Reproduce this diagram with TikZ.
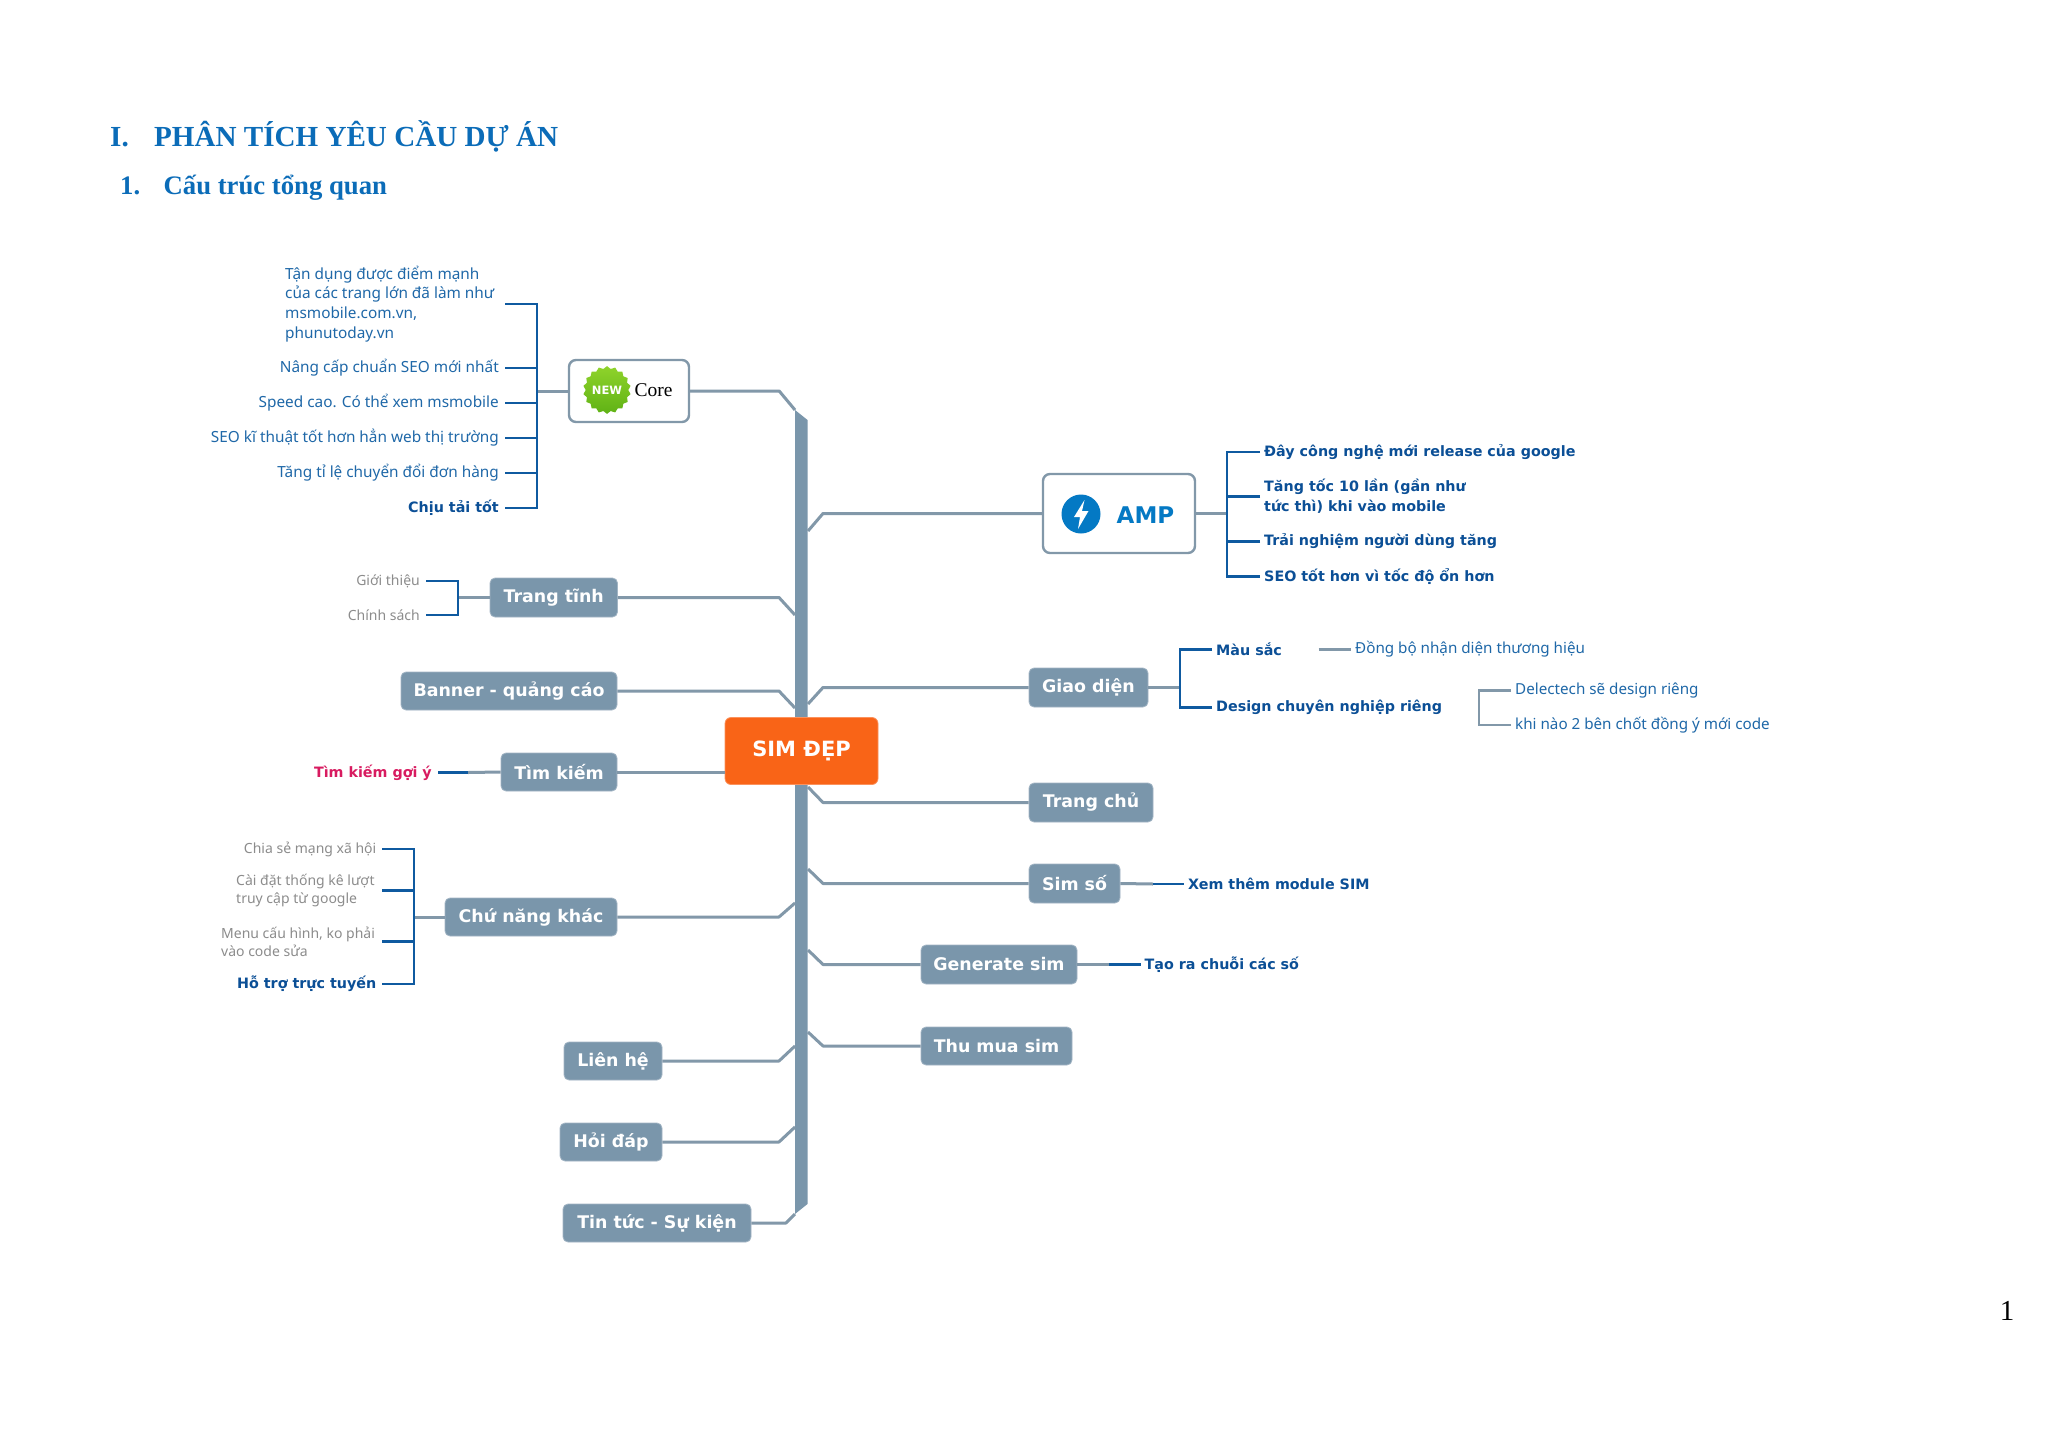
\documentclass[tikz,border=0pt]{standalone}
\usepackage{fontspec}
\setmainfont{Liberation Serif}
\newfontfamily\lf{Noto Sans}
\newfontfamily\dvb{DejaVu Sans}[BoldFont={DejaVu Sans Bold}]
\usetikzlibrary{shapes.geometric}
\definecolor{topicc}{HTML}{7A96AB}
\definecolor{linec}{HTML}{8298A9}
\definecolor{blc}{HTML}{0F5AA0}
\definecolor{leafc}{HTML}{1F68A8}
\definecolor{boldc}{HTML}{0B4F96}
\definecolor{grayc}{HTML}{8C8C8C}
\definecolor{headc}{HTML}{0B6CB8}
\definecolor{orc}{HTML}{F96417}
\definecolor{ampc}{HTML}{0479C4}
\definecolor{pinkc}{HTML}{D81B60}
\definecolor{greena}{HTML}{8FD32B}
\definecolor{greenb}{HTML}{5FB215}
\tikzset{
 topic/.style={rectangle,rounded corners=5pt,fill=topicc,draw=topicc!70!white,line width=.8pt,text=white,inner sep=0pt,font=\dvb\bfseries\fontsize{17.4}{20}\selectfont},
 whitebox/.style={rectangle,rounded corners=7pt,fill=white,draw=linec,line width=2.4pt,inner sep=0pt},
 leafn/.style={inner sep=0pt,text=leafc,font=\lf\fontsize{15.2}{19.7}\selectfont},
 graylf/.style={inner sep=0pt,text=grayc,font=\lf\fontsize{14}{18}\selectfont},
 boldlf/.style={inner sep=0pt,text=boldc,font=\dvb\bfseries\fontsize{14.3}{20}\selectfont},
 gl/.style={draw=linec,line width=3pt,line join=round},
 bl/.style={draw=blc,line width=2.4pt},
 headn/.style={inner sep=0pt,text=headc,anchor=base west},
}
\begin{document}
\begin{tikzpicture}[x=1pt,y=-1pt]
\useasboundingbox (0,0) rectangle (2048,1448);
\fill[white] (0,0) rectangle (2048,1448);
% headings
\node[headn,font=\bfseries\fontsize{29.1}{32}\selectfont] (h1) at (110,146) {I.};
\node[headn,font=\bfseries\fontsize{29.1}{32}\selectfont] (h1b) at (154,146) {PHÂN TÍCH YÊU CẦU DỰ ÁN};
\node[headn,font=\bfseries\fontsize{26.7}{30}\selectfont] (h2) at (120,194) {1.};
\node[headn,font=\bfseries\fontsize{26.7}{30}\selectfont] (h2b) at (163.5,194) {Cấu trúc tổng quan};
\node[inner sep=0pt,font=\fontsize{29}{32}\selectfont] (pg) at (2007,1311) {1};
\begin{scope}[yshift=-1pt]
% trunk
\coordinate (tTL) at (795,409);
\coordinate (tTR) at (807.5,419);
\coordinate (tBR) at (807.5,1203);
\coordinate (tBL) at (795,1213);
\fill[topicc] (tTL) -- (tTR) -- (tBR) -- (tBL) -- cycle;
% central
\node[rectangle,rounded corners=6pt,fill=orc,draw=orc!70!white,line width=.8pt,text=white,inner sep=0pt,minimum width=153pt,minimum height=67pt,font=\dvb\bfseries\fontsize{21}{24}\selectfont] (sim) at (801.5,750) {SIM ĐẸP};
% white boxes
\node[whitebox,minimum width=120pt,minimum height=62pt] (core) at (629,390) {};
\node[star,star points=18,star point ratio=1.12,inner sep=0pt,minimum size=46pt,top color=greena,bottom color=greenb,draw=none,text=white,font=\dvb\bfseries\fontsize{11.5}{14}\selectfont] (newb) at (607,389) {NEW};
\node[inner sep=0pt,font=\fontsize{19.5}{22}\selectfont] (coret) at (653.5,389) {Core};
\node[whitebox,minimum width=152pt,minimum height=79pt] (amp) at (1119,512.5) {};
\node[circle,fill=ampc,minimum size=39pt,inner sep=0pt] (ampi) at (1081,513) {};
\fill[white] (1084.5,499) -- (1074,516) -- (1080,516) -- (1078,528) -- (1088.5,510) -- (1082,510) -- cycle;
\node[inner sep=0pt,text=ampc,font=\dvb\bfseries\fontsize{23}{26}\selectfont] (ampt) at (1145.5,514) {AMP};
% topic nodes
\node[topic,minimum width=127.5pt,minimum height=39pt] (tt) at (553.75,596.5) {Trang tĩnh};
\node[topic,minimum width=216pt,minimum height=38pt] (bn) at (509,690) {Banner - quảng cáo};
\node[topic,minimum width=116pt,minimum height=38pt] (tk) at (559,771) {Tìm kiếm};
\node[topic,minimum width=172pt,minimum height=38pt] (cn) at (531,916) {Chứ năng khác};
\node[topic,minimum width=98pt,minimum height=38pt] (lh) at (613,1060) {Liên hệ};
\node[topic,minimum width=102pt,minimum height=38pt] (hd) at (611,1141) {Hỏi đáp};
\node[topic,minimum width=188pt,minimum height=38pt] (tt2) at (657,1222) {Tin tức - Sự kiện};
\node[topic,minimum width=119pt,minimum height=39pt] (gd) at (1088.5,686.5) {Giao diện};
\node[topic,minimum width=124pt,minimum height=39pt] (tc) at (1091,801.5) {Trang chủ};
\node[topic,minimum width=91pt,minimum height=39pt] (ss) at (1074.5,882.5) {Sim số};
\node[topic,minimum width=156pt,minimum height=39pt] (gs) at (999,963.5) {Generate sim};
\node[topic,minimum width=151pt,minimum height=38pt] (tm) at (996.5,1045) {Thu mua sim};
% trunk connectors left
\draw[gl] (core.east) -- ++(89,0) -- (tTL);
\coordinate (jtt) at (795,614);
\coordinate (jbn) at (795,707);
\coordinate (jcn) at (795,902);
\coordinate (jlh) at (795,1045);
\coordinate (jhd) at (795,1126);
\draw[gl] (tt.east) -- (779,596.5) -- (jtt);
\draw[gl] (bn.east) -- (779,690) -- (jbn);
\draw[gl] (tk.east) -- (sim.west |- tk.east);
\draw[gl] (cn.east) -- (779,916) -- (jcn);
\draw[gl] (lh.east) -- (779,1060) -- (jlh);
\draw[gl] (hd.east) -- (779,1141) -- (jhd);
\draw[gl] (tt2.east) -- (786,1222) -- (tBL);
% trunk connectors right
\coordinate (jamp) at (808,530);
\coordinate (jgd) at (808,703);
\coordinate (jtc) at (808,786);
\coordinate (jss) at (808,868);
\coordinate (jgs) at (808,949);
\coordinate (jtm) at (808,1031);
\draw[gl] (amp.west) -- (823,512.5) -- (jamp);
\draw[gl] (gd.west) -- (823,686.5) -- (jgd);
\draw[gl] (tc.west) -- (823,801.5) -- (jtc);
\draw[gl] (ss.west) -- (823,882.5) -- (jss);
\draw[gl] (gs.west) -- (823,963.5) -- (jgs);
\draw[gl] (tm.west) -- (823,1045) -- (jtm);
% Core leaves
\node[leafn,anchor=west,align=left,font=\lf\fontsize{15.35}{19.7}\selectfont] (c1) at (285,303) {Tận dụng được điểm mạnh\\của các trang lớn đã làm như\\msmobile.com.vn,\\phunutoday.vn};
\node[leafn,anchor=east,font=\lf\fontsize{15.35}{19.7}\selectfont] (c2) at (499,367) {Nâng cấp chuẩn SEO mới nhất};
\node[leafn,anchor=east,font=\lf\fontsize{15.35}{19.7}\selectfont] (c3) at (499,402) {Speed cao. Có thể xem msmobile};
\node[leafn,anchor=east,font=\lf\fontsize{15.35}{19.7}\selectfont] (c4) at (499,437) {SEO kĩ thuật tốt hơn hẳn web thị trường};
\node[leafn,anchor=east,font=\lf\fontsize{15.35}{19.7}\selectfont] (c5) at (499,472) {Tăng tỉ lệ chuyển đổi đơn hàng};
\node[boldlf,anchor=east] (c6) at (499,507) {Chịu tải tốt};
\coordinate (jc) at (537,390);
\draw[gl] (core.west) -- (jc);
\draw[bl] ([xshift=220pt]c1.west) -| (jc);
\foreach \n in {c2,c3,c4,c5,c6}{\draw[bl] ([xshift=6pt]\n.east) -| (jc);}
% Trang tinh leaves
\node[graylf,anchor=east] (t1) at (420,580) {Giới thiệu};
\node[graylf,anchor=east] (t2) at (420,614) {Chính sách};
\coordinate (jt) at (458,596.5);
\draw[gl] (tt.west) -- (jt);
\foreach \n in {t1,t2}{\draw[bl] ([xshift=6pt]\n.east) -| (jt);}
% Tim kiem leaf
\node[anchor=east,inner sep=0pt,text=pinkc,font=\dvb\bfseries\fontsize{14.3}{18}\selectfont] (k1) at (432,771.5) {Tìm kiếm gợi ý};
\coordinate (jk) at (468,771.5);
\draw[gl] (tk.west) -- (jk);
\draw[bl] ([xshift=6pt]k1.east) -- (jk);
% Chuc nang leaves
\node[graylf,anchor=east] (n1) at (376.5,848) {Chia sẻ mạng xã hội};
\node[graylf,anchor=west,align=left] (n2) at (236,889.5) {Cài đặt thống kê lượt\\truy cập từ google};
\node[graylf,anchor=west,align=left] (n3) at (221,940.5) {Menu cấu hình, ko phải\\vào code sửa};
\node[boldlf,anchor=east] (n4) at (376.5,983) {Hỗ trợ trực tuyến};
\coordinate (jn) at (414,916);
\draw[gl] (cn.west) -- (jn);
\draw[bl] ([xshift=146pt]n2.west) -| (jn);
\draw[bl] ([xshift=161pt]n3.west) -| (jn);
\foreach \n in {n1,n4}{\draw[bl] ([xshift=5.5pt]\n.east) -| (jn);}
% AMP leaves
\node[boldlf,anchor=west] (a1) at (1264,451) {Đây công nghệ mới release của google};
\node[boldlf,anchor=west,align=left] (a2) at (1264,495.5) {Tăng tốc 10 lần (gần như\\tức thì) khi vào mobile};
\node[boldlf,anchor=west] (a3) at (1264,540.5) {Trải nghiệm người dùng tăng};
\node[boldlf,anchor=west] (a4) at (1264,575.5) {SEO tốt hơn vì tốc độ ổn hơn};
\coordinate (ja) at (1227,512.5);
\draw[gl] (amp.east) -- (ja);
\foreach \n in {a1,a2,a3,a4}{\draw[bl] ([xshift=-4pt]\n.west) -| (ja);}
% Giao dien leaves
\node[boldlf,anchor=west] (g1) at (1216,648.5) {Màu sắc};
\node[boldlf,anchor=west] (g2) at (1216,706.5) {Design chuyên nghiệp riêng};
\coordinate (jg) at (1180,686.5);
\draw[gl] (gd.east) -- (jg);
\foreach \n in {g1,g2}{\draw[bl] ([xshift=-4pt]\n.west) -| (jg);}
\node[leafn,anchor=west] (g3) at (1355,648.5) {Đồng bộ nhận diện thương hiệu};
\coordinate (jg1) at (1318.5,648.5);
\draw[gl] (jg1) -- ([xshift=-4pt]g3.west);
\node[leafn,anchor=west] (g4) at (1515,689.5) {Delectech sẽ design riêng};
\node[leafn,anchor=west] (g5) at (1515,724) {khi nào 2 bên chốt đồng ý mới code};
\coordinate (jg2) at (1479,706.5);
\foreach \n in {g4,g5}{\draw[draw=linec,line width=2.4pt] ([xshift=-4pt]\n.west) -| (jg2);}
% Sim so, Generate leaves
\node[boldlf,anchor=west] (s1) at (1188,883) {Xem thêm module SIM};
\coordinate (js) at (1153,883);
\draw[gl] (ss.east) -- (js);
\draw[bl] (js) -- ([xshift=-4pt]s1.west);
\node[boldlf,anchor=west] (e1) at (1144.5,963.5) {Tạo ra chuỗi các số};
\coordinate (je) at (1109,963.5);
\draw[gl] (gs.east) -- (je);
\draw[bl] (je) -- ([xshift=-4pt]e1.west);
\end{scope}
\end{tikzpicture}
\end{document}
